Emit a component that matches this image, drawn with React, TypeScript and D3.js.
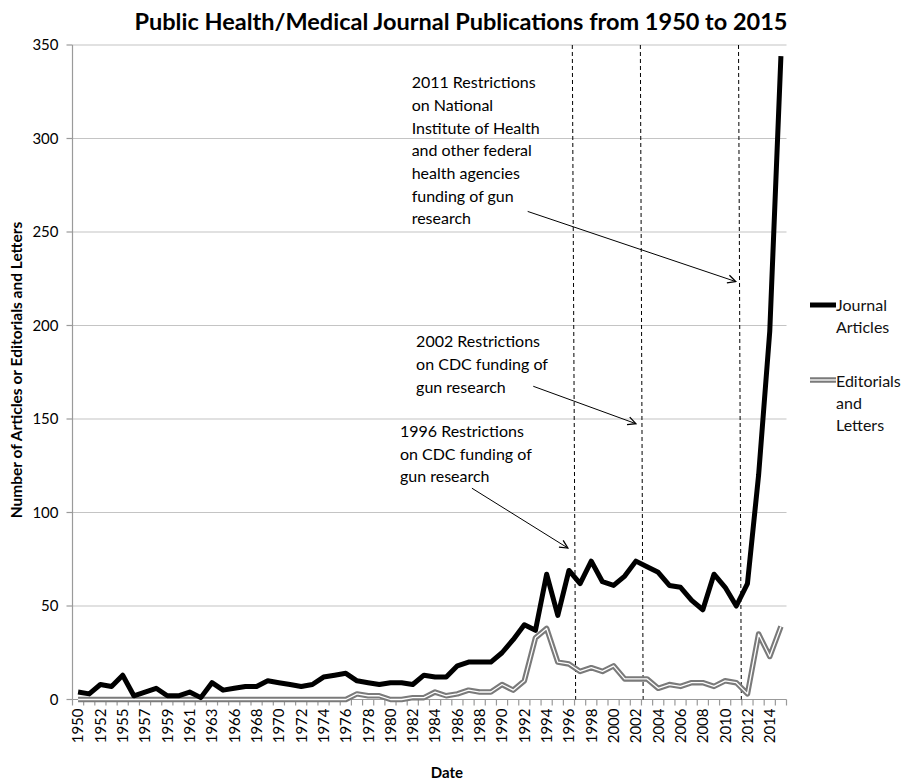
import React from "react";
import * as d3 from "d3";

const years: string[] = [
  "1950","1951","1952","1954","1955","1956","1957","1958","1959","1960","1961","1962","1963","1965",
  ...d3.range(1966, 2016).map(String),
];

const journalArticles: number[] = [
  4, 3, 8, 7, 13, 2, 4, 6, 2, 2, 4, 1, 9, 5,
  6, 7, 7, 10, 9, 8, 7, 8, 12, 13, 14, 10, 9, 8, 9, 9,
  8, 13, 12, 12, 18, 20, 20, 20, 25, 32, 40, 37, 67, 45,
  69, 62, 74, 63, 61, 66, 74, 71, 68, 61, 60, 53, 48, 67,
  60, 50, 62, 120, 197, 344,
];

const editorialsLetters: number[] = [
  0, 0, 0, 0, 0, 0, 0, 0, 0, 0, 0, 0, 0, 0,
  0, 0, 0, 0, 0, 0, 0, 0, 0, 0, 0,
  3, 2, 2, 0, 0, 1, 1, 4, 2, 3, 5, 4, 4, 8, 5, 10, 33, 38, 20,
  19, 15, 17, 15, 18, 11, 11, 11, 6, 8, 7, 9, 9, 7, 10, 9, 3, 35, 23, 39,
];

const yTicks: number[] = [0, 50, 100, 150, 200, 250, 300, 350];

// reference lines: index position at top and bottom (slightly tilted, hand drawn)
const refLineTop: number[] = [44.3, 50.4, 59.2];
const refLineBottom: number[] = [44.6, 50.65, 59.45];

const annotationTexts: string[][] = [
  ["1996 Restrictions", "on CDC funding of", "gun research"],
  ["2002 Restrictions", "on CDC funding of", "gun research"],
  ["2011 Restrictions", "on National", "Institute of Health", "and other federal", "health agencies", "funding of gun", "research"],
];
// text anchor (index position, value of first line), arrow from/to (index, value)
const annotationTextPos: [number, number][] = [[28.85, 143.5], [30.3, 191.5], [29.9, 330]];
const arrowFrom: [number, number][] = [[35.3, 113], [40.8, 167.5], [40.3, 261]];
const arrowTo: [number, number][] = [[43.9, 81], [50.0, 147.5], [58.95, 223.5]];

const W = 905;
const H = 780;
const FONT = "Lato, 'Open Sans', sans-serif";

export default function App() {
  const n = years.length;
  const left = 72.5;
  const right = 786.5;
  const x = d3.scaleLinear().domain([-0.5, n - 0.5]).range([left, right]);
  const y = d3.scaleLinear().domain([0, 350]).range([699.5, 45]);

  const line = d3
    .line<number>()
    .x((_, i) => x(i))
    .y((d) => y(d));

  const bounds = d3.range(n + 1).map((i) => x(i - 0.5));
  const lineH = 22.7;

  return (
    <svg
      width={W}
      height={H}
      style={{ position: "absolute", left: 0, top: 0, background: "#fff" }}
      fontFamily={FONT}
    >
      <defs>
        <marker id="arr" viewBox="0 0 10 10" refX="9" refY="5" markerWidth="10" markerHeight="10" orient="auto" markerUnits="userSpaceOnUse">
          <path d="M1,1 L9,5 L1,9" fill="none" stroke="#000" strokeWidth={1.3} />
        </marker>
      </defs>

      {/* title */}
      <text x={461} y={30} textAnchor="middle" fontSize={23.5} fontWeight="bold" fill="#000">
        Public Health/Medical Journal Publications from 1950 to 2015
      </text>

      {/* gridlines */}
      {yTicks.filter((t) => t > 0).map((t) => (
        <line key={"g" + t} x1={left} x2={right} y1={y(t)} y2={y(t)} stroke="#c4c4c4" strokeWidth={1.2} />
      ))}

      {/* y axis */}
      <line x1={left} x2={left} y1={y(350)} y2={y(0)} stroke="#9a9a9a" strokeWidth={1.2} />
      {yTicks.map((t) => (
        <g key={"yt" + t}>
          <line x1={left - 6} x2={left} y1={y(t)} y2={y(t)} stroke="#9a9a9a" strokeWidth={1.2} />
          <text x={left - 14} y={y(t)} dy="0.36em" textAnchor="end" fontSize={15} fill="#000">
            {t}
          </text>
        </g>
      ))}

      {/* x axis */}
      <line x1={left} x2={right} y1={y(0)} y2={y(0)} stroke="#9a9a9a" strokeWidth={1.2} />
      {bounds.map((b, i) => (
        <line key={"xt" + i} x1={b} x2={b} y1={y(0)} y2={y(0) + 6} stroke="#9a9a9a" strokeWidth={1.2} />
      ))}
      {years.map((yr, i) =>
        i % 2 === 0 ? (
          <text
            key={"xl" + yr}
            transform={`translate(${x(i)},${y(0) + 9}) rotate(-90)`}
            dy="0.36em"
            textAnchor="end"
            fontSize={15}
            fill="#000"
          >
            {yr}
          </text>
        ) : null
      )}

      {/* axis titles */}
      <text x={447} y={778} textAnchor="middle" fontSize={15} fontWeight="bold" fill="#000">
        Date
      </text>
      <text transform={`translate(22,370) rotate(-90)`} textAnchor="middle" fontSize={15.5} fontWeight="bold" fill="#000">
        Number of Articles or Editorials and Letters
      </text>

      {/* dashed reference lines */}
      {refLineTop.map((t, i) => (
        <line
          key={"ref" + i}
          x1={x(t)}
          x2={x(refLineBottom[i])}
          y1={y(350)}
          y2={y(0)}
          stroke="#000"
          strokeWidth={1}
          strokeDasharray="4,3"
        />
      ))}

      {/* series */}
      <path d={line(editorialsLetters) || ""} fill="none" stroke="#7a7a7a" strokeWidth={5.5} strokeLinejoin="round" />
      <path d={line(editorialsLetters) || ""} fill="none" stroke="#ffffff" strokeWidth={1.3} strokeLinejoin="round" />
      <path d={line(journalArticles) || ""} fill="none" stroke="#000" strokeWidth={5} strokeLinejoin="round" />

      {/* annotations */}
      {annotationTexts.map((lines, k) => (
        <g key={"ann" + k}>
          {lines.map((s, j) => (
            <text
              key={j}
              x={x(annotationTextPos[k][0])}
              y={y(annotationTextPos[k][1]) + j * lineH}
              dy="0.36em"
              fontSize={16}
              fill="#000"
            >
              {s}
            </text>
          ))}
          <line
            x1={x(arrowFrom[k][0])}
            y1={y(arrowFrom[k][1])}
            x2={x(arrowTo[k][0])}
            y2={y(arrowTo[k][1])}
            stroke="#000"
            strokeWidth={1}
            markerEnd="url(#arr)"
          />
        </g>
      ))}

      {/* legend */}
      <g>
        <line x1={810} x2={836} y1={305} y2={305} stroke="#000" strokeWidth={5} />
        <text x={836} y={305} dy="0.36em" fontSize={16} fill="#111">Journal</text>
        <text x={836} y={327} dy="0.36em" fontSize={16} fill="#111">Articles</text>
        <line x1={810} x2={836} y1={380} y2={380} stroke="#7a7a7a" strokeWidth={5.5} />
        <line x1={810} x2={836} y1={380} y2={380} stroke="#fff" strokeWidth={1.3} />
        <text x={836} y={381} dy="0.36em" fontSize={16} fill="#111">Editorials</text>
        <text x={836} y={403} dy="0.36em" fontSize={16} fill="#111">and</text>
        <text x={836} y={425} dy="0.36em" fontSize={16} fill="#111">Letters</text>
      </g>
    </svg>
  );
}
